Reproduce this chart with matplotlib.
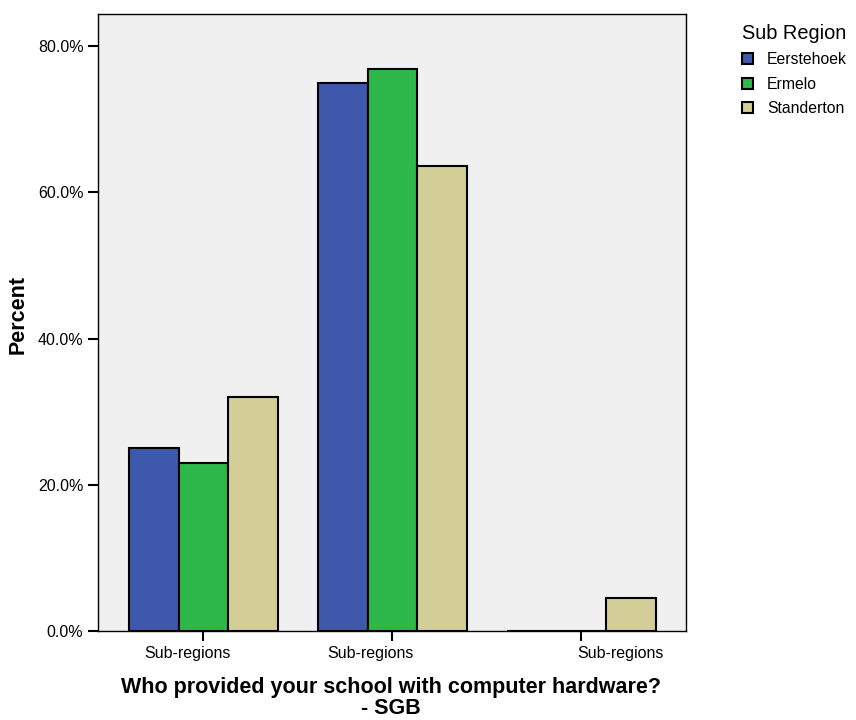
import matplotlib.pyplot as plt
import numpy as np
from matplotlib.patches import Patch

plt.rcParams['font.family'] = ['Liberation Sans', 'DejaVu Sans']

regions = ["Eerstehoek", "Ermelo", "Standerton"]
colors = ["#3e58ac", "#2fb84a", "#d3ce97"]
group_labels = ["Sub-regions", "Sub-regions", "Sub-regions"]
label_pos = [-0.087, 0.886, 2.204]
percent = {
    "Eerstehoek": [25.0, 75.0, 0.0],
    "Ermelo": [23.0, 76.9, 0.0],
    "Standerton": [32.0, 63.6, 4.5],
}

fig = plt.figure(figsize=(8.56, 7.2), dpi=100)
ax = fig.add_axes([0.1145, 0.1236, 0.6869, 0.857])
ax.set_facecolor("#f0f0f0")

x = np.arange(len(group_labels))
width = 0.263
for i, reg in enumerate(regions):
    ax.bar(x + (i - 1) * width, percent[reg], width, color=colors[i],
           edgecolor="black", linewidth=1.5, label=reg, zorder=3)

ax.set_xlim(-0.558, 2.553)
ax.set_ylim(0, 84.4)
ax.set_yticks([0, 20, 40, 60, 80])
ax.set_yticklabels([f"{v:.1f}%" for v in [0, 20, 40, 60, 80]], fontsize=11.5)
ax.set_xticks(x)
ax.set_xticklabels([])
ax.tick_params(axis="both", direction="out", length=7.5, width=1.5, pad=3)
for lab, pos in zip(group_labels, label_pos):
    ax.text(pos, -0.024, lab, transform=ax.get_xaxis_transform(),
            ha="center", va="top", fontsize=11.5)

for s in ax.spines.values():
    s.set_linewidth(1.0)

fig.text(18 / 856, 1 - 315 / 720, "Percent", rotation=90, ha="center",
         va="center", fontsize=15.5, fontweight="bold")
fig.text(391 / 856, 1 - 698 / 720,
         "Who provided your school with computer hardware?\n- SGB",
         ha="center", va="center", fontsize=15.5, fontweight="bold",
         linespacing=0.98)

handles = [Patch(facecolor=c, edgecolor="black", linewidth=1.5) for c in colors]
leg = fig.legend(handles, regions, title="Sub Region", loc="upper left",
                 bbox_to_anchor=(742 / 856, 1 - 24 / 720), frameon=False,
                 fontsize=11.3, title_fontsize=14.4, handlelength=0.7,
                 handleheight=0.7, handletextpad=0.9, labelspacing=0.6,
                 borderpad=0, borderaxespad=0)
leg._legend_box.align = "left"

fig.savefig("out.png", dpi=100)
